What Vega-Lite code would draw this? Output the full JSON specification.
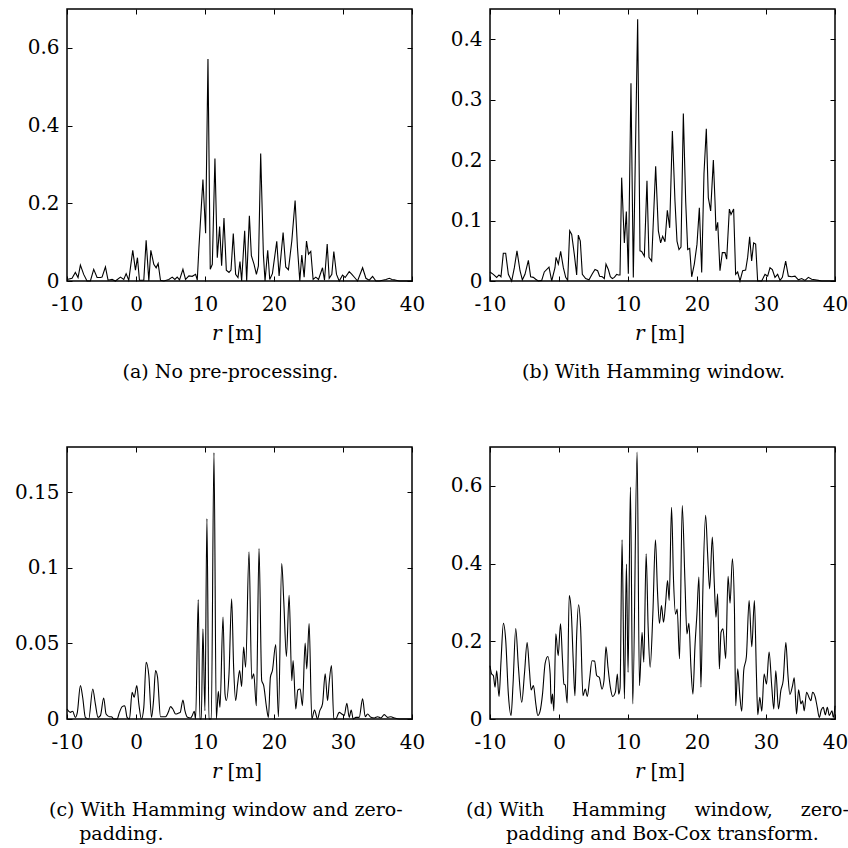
{
  "$schema": "https://vega.github.io/schema/vega-lite/v6.json",
  "padding": {"left": 13, "top": 7, "right": 0, "bottom": 0},
  "columns": 2,
  "spacing": {"row": 166, "column": 78},
  "bounds": "flush",
  "config": {
    "font": "DejaVu Serif",
    "view": {"stroke": "black", "strokeWidth": 1.5},
    "axis": {"domain": false, "grid": false, "tickSize": -5, "tickColor": "black", "tickWidth": 1, "labelColor": "black", "labelFontSize": 20, "labelFont": "DejaVu Serif", "titleFont": "DejaVu Serif", "titleFontSize": 20, "titleFontWeight": "normal", "titleColor": "black", "labelFlush": false},
    "axisX": {"labelPadding": 18},
    "axisY": {"labelPadding": 13},
    "title": {"font": "DejaVu Serif", "fontSize": 19, "fontWeight": "normal", "color": "black", "orient": "bottom", "offset": 20, "lineHeight": 24, "frame": "group"},
    "locale": {"number": {"decimal": ".", "thousands": ",", "grouping": [3], "currency": ["$", ""], "minus": "-"}}
  },
  "datasets": {
    "a": [
      {"r":-10.0,"v":0.004},{"r":-9.27,"v":0.007},{"r":-8.79,"v":0.022},{"r":-8.40,"v":0.009},{"r":-8.06,"v":0.041},{"r":-7.58,"v":0.017},{"r":-7.10,"v":0},{"r":-6.61,"v":0},{"r":-6.13,"v":0.030},{"r":-5.64,"v":0.009},{"r":-5.16,"v":0.009},{"r":-4.92,"v":0.010},{"r":-4.43,"v":0.036},{"r":-4.05,"v":0.002},{"r":-3.47,"v":0.004},{"r":-2.98,"v":0},{"r":-2.26,"v":0.010},{"r":-1.77,"v":0.004},{"r":-1.43,"v":0.019},{"r":-1.05,"v":0.002},{"r":-0.47,"v":0.079},{"r":-0.08,"v":0.028},{"r":0.21,"v":0.060},{"r":0.50,"v":0.002},{"r":1.13,"v":0.002},{"r":1.47,"v":0.105},{"r":1.86,"v":0},{"r":2.15,"v":0.079},{"r":2.58,"v":0.043},{"r":2.92,"v":0.034},{"r":3.21,"v":0.045},{"r":3.55,"v":0.002},{"r":4.04,"v":0},{"r":4.76,"v":0.004},{"r":5.25,"v":0.010},{"r":5.63,"v":0.004},{"r":5.97,"v":0.010},{"r":6.31,"v":0.003},{"r":6.80,"v":0.030},{"r":7.18,"v":0.004},{"r":7.67,"v":0.013},{"r":8.15,"v":0.012},{"r":8.64,"v":0.017},{"r":8.88,"v":0.002},{"r":9.12,"v":0.086},{"r":9.70,"v":0.261},{"r":10.09,"v":0.123},{"r":10.43,"v":0.571},{"r":10.76,"v":0.030},{"r":11.06,"v":0.043},{"r":11.44,"v":0.315},{"r":11.78,"v":0.060},{"r":12.12,"v":0.140},{"r":12.41,"v":0.039},{"r":12.75,"v":0.162},{"r":13.09,"v":0.028},{"r":13.48,"v":0.022},{"r":13.77,"v":0.028},{"r":14.10,"v":0.122},{"r":14.44,"v":0.017},{"r":14.78,"v":0.009},{"r":15.07,"v":0.050},{"r":15.31,"v":0},{"r":15.75,"v":0.129},{"r":16.04,"v":0},{"r":16.43,"v":0.168},{"r":16.72,"v":0.065},{"r":17.11,"v":0.043},{"r":17.45,"v":0.017},{"r":17.74,"v":0.039},{"r":18.07,"v":0.328},{"r":18.46,"v":0.069},{"r":18.70,"v":0},{"r":19.09,"v":0.079},{"r":19.38,"v":0.004},{"r":19.77,"v":0.019},{"r":20.40,"v":0.102},{"r":20.74,"v":0.013},{"r":21.32,"v":0.125},{"r":21.70,"v":0.036},{"r":22.09,"v":0.029},{"r":22.58,"v":0.103},{"r":23.06,"v":0.207},{"r":23.40,"v":0.086},{"r":23.74,"v":0},{"r":24.03,"v":0.067},{"r":24.37,"v":0.010},{"r":24.71,"v":0.103},{"r":25.00,"v":0.069},{"r":25.33,"v":0.076},{"r":25.67,"v":0.004},{"r":26.06,"v":0.010},{"r":26.45,"v":0.004},{"r":27.03,"v":0.034},{"r":27.32,"v":0.002},{"r":27.71,"v":0.095},{"r":28.00,"v":0.007},{"r":28.38,"v":0.017},{"r":28.67,"v":0.076},{"r":29.06,"v":0.017},{"r":29.45,"v":0},{"r":29.93,"v":0.015},{"r":30.32,"v":0.009},{"r":30.90,"v":0.024},{"r":31.29,"v":0.017},{"r":31.68,"v":0.009},{"r":32.11,"v":0},{"r":32.84,"v":0.034},{"r":33.32,"v":0.007},{"r":33.80,"v":0.002},{"r":34.29,"v":0.012},{"r":34.77,"v":0},{"r":35.26,"v":0},{"r":36.22,"v":0.004},{"r":36.71,"v":0.007},{"r":37.10,"v":0.004},{"r":37.43,"v":0.003},{"r":37.68,"v":0.002},{"r":38.16,"v":0},{"r":40.0,"v":0}
    ],
    "b": [
      {"r":-10.00,"v":0.015},{"r":-9.52,"v":0.011},{"r":-9.03,"v":0.006},{"r":-8.70,"v":0.010},{"r":-8.41,"v":0.007},{"r":-8.07,"v":0.046},{"r":-7.73,"v":0.046},{"r":-7.34,"v":0.011},{"r":-6.86,"v":0},{"r":-6.47,"v":0.022},{"r":-6.09,"v":0.050},{"r":-5.65,"v":0.017},{"r":-5.31,"v":0.002},{"r":-4.93,"v":0.011},{"r":-4.44,"v":0.034},{"r":-4.11,"v":0.007},{"r":-3.72,"v":0.006},{"r":-3.38,"v":0.003},{"r":-3.00,"v":0},{"r":-2.51,"v":0.001},{"r":-2.13,"v":0.015},{"r":-1.45,"v":0.023},{"r":-1.06,"v":0},{"r":-0.58,"v":0.022},{"r":-0.43,"v":0.039},{"r":-0.10,"v":0.028},{"r":0.24,"v":0.049},{"r":0.63,"v":0.022},{"r":0.97,"v":0.006},{"r":1.26,"v":0.001},{"r":1.55,"v":0.083},{"r":1.84,"v":0.077},{"r":2.22,"v":0.044},{"r":2.56,"v":0.010},{"r":2.80,"v":0.076},{"r":3.09,"v":0.066},{"r":3.38,"v":0.011},{"r":3.86,"v":0.004},{"r":4.35,"v":0.002},{"r":4.83,"v":0.012},{"r":5.22,"v":0.019},{"r":5.60,"v":0.017},{"r":5.89,"v":0.008},{"r":6.28,"v":0.007},{"r":6.57,"v":0.004},{"r":6.81,"v":0.028},{"r":7.15,"v":0.019},{"r":7.44,"v":0.007},{"r":7.73,"v":0.004},{"r":8.02,"v":0.006},{"r":8.36,"v":0.011},{"r":8.60,"v":0.010},{"r":8.84,"v":0.010},{"r":9.08,"v":0.171},{"r":9.47,"v":0.063},{"r":9.76,"v":0.115},{"r":10.05,"v":0.012},{"r":10.43,"v":0.327},{"r":10.77,"v":0.006},{"r":11.40,"v":0.433},{"r":11.74,"v":0.050},{"r":11.98,"v":0.049},{"r":12.37,"v":0.041},{"r":12.75,"v":0.166},{"r":13.04,"v":0.039},{"r":13.43,"v":0.033},{"r":14.01,"v":0.190},{"r":14.40,"v":0.083},{"r":14.73,"v":0.063},{"r":15.02,"v":0.074},{"r":15.36,"v":0.065},{"r":15.70,"v":0.117},{"r":16.04,"v":0.088},{"r":16.43,"v":0.248},{"r":16.81,"v":0.132},{"r":17.10,"v":0.066},{"r":17.39,"v":0.052},{"r":17.68,"v":0.056},{"r":18.02,"v":0.277},{"r":18.36,"v":0.132},{"r":18.65,"v":0.052},{"r":18.94,"v":0.054},{"r":19.23,"v":0.007},{"r":19.61,"v":0.028},{"r":20.00,"v":0.061},{"r":20.34,"v":0.121},{"r":20.68,"v":0.014},{"r":21.01,"v":0.177},{"r":21.35,"v":0.252},{"r":21.64,"v":0.138},{"r":21.98,"v":0.116},{"r":22.37,"v":0.200},{"r":22.61,"v":0.132},{"r":22.75,"v":0.083},{"r":23.00,"v":0.097},{"r":23.33,"v":0.017},{"r":23.67,"v":0.047},{"r":24.06,"v":0.047},{"r":24.30,"v":0.036},{"r":24.69,"v":0.119},{"r":24.93,"v":0.110},{"r":25.31,"v":0.119},{"r":25.60,"v":0.011},{"r":25.89,"v":0.015},{"r":26.23,"v":0},{"r":26.62,"v":0.017},{"r":27.05,"v":0.018},{"r":27.34,"v":0.039},{"r":27.63,"v":0.073},{"r":27.92,"v":0.033},{"r":28.21,"v":0.063},{"r":28.50,"v":0.061},{"r":28.79,"v":0},{"r":29.37,"v":0},{"r":29.86,"v":0.011},{"r":30.24,"v":0.008},{"r":30.58,"v":0.022},{"r":30.92,"v":0.019},{"r":31.30,"v":0.006},{"r":31.69,"v":0.011},{"r":32.03,"v":0.001},{"r":32.37,"v":0.006},{"r":32.85,"v":0.033},{"r":33.24,"v":0.008},{"r":33.72,"v":0.007},{"r":34.20,"v":0.008},{"r":34.69,"v":0.002},{"r":35.17,"v":0.004},{"r":35.65,"v":0.001},{"r":36.14,"v":0.006},{"r":36.62,"v":0.003},{"r":37.10,"v":0.002},{"r":37.58,"v":0.001},{"r":38.07,"v":0},{"r":40.00,"v":0}
    ],
    "c": [
      {"r":-10.00,"v":0.0066},{"r":-9.52,"v":0.0044},{"r":-9.18,"v":0.0051},{"r":-8.79,"v":0.0011},{"r":-8.50,"v":0.0044},{"r":-8.06,"v":0.0221},{"r":-7.73,"v":0.0144},{"r":-7.34,"v":0.0011},{"r":-6.85,"v":0},{"r":-6.27,"v":0.0199},{"r":-5.89,"v":0.0100},{"r":-5.50,"v":0.0011},{"r":-5.16,"v":0.0022},{"r":-4.68,"v":0.0139},{"r":-4.34,"v":0.0033},{"r":-3.85,"v":0.0015},{"r":-3.56,"v":0.0015},{"r":-3.22,"v":0},{"r":-2.74,"v":0},{"r":-2.40,"v":0.0044},{"r":-2.01,"v":0.0082},{"r":-1.63,"v":0.0088},{"r":-1.29,"v":0.0011},{"r":-0.95,"v":0},{"r":-0.56,"v":0.0177},{"r":-0.27,"v":0.0144},{"r":0.12,"v":0.0221},{"r":0.41,"v":0.0100},{"r":0.79,"v":0},{"r":1.13,"v":0.0077},{"r":1.47,"v":0.0376},{"r":1.86,"v":0.0288},{"r":2.25,"v":0.0011},{"r":2.54,"v":0.0122},{"r":2.83,"v":0.0321},{"r":3.12,"v":0.0277},{"r":3.55,"v":0.0015},{"r":3.89,"v":0.0015},{"r":4.28,"v":0.0015},{"r":4.67,"v":0.0044},{"r":5.00,"v":0.0082},{"r":5.34,"v":0.0066},{"r":5.73,"v":0.0033},{"r":6.12,"v":0.0038},{"r":6.41,"v":0.0044},{"r":6.80,"v":0.0126},{"r":7.09,"v":0.0055},{"r":7.47,"v":0.0011},{"r":7.91,"v":0.0007},{"r":8.15,"v":0.0022},{"r":8.44,"v":0.0051},{"r":8.64,"v":0},{"r":9.02,"v":0.079},{"r":9.26,"v":0},{"r":9.46,"v":0},{"r":9.70,"v":0.0597},{"r":9.99,"v":0.0055},{"r":10.28,"v":0.1327},{"r":10.57,"v":0},{"r":10.91,"v":0},{"r":11.30,"v":0.1763},{"r":11.64,"v":0},{"r":11.93,"v":0.0184},{"r":12.17,"v":0.0077},{"r":12.61,"v":0.0675},{"r":12.90,"v":0.0166},{"r":13.09,"v":0.0122},{"r":13.48,"v":0.0299},{"r":13.86,"v":0.0796},{"r":14.15,"v":0.0343},{"r":14.44,"v":0.0122},{"r":14.73,"v":0.0232},{"r":15.02,"v":0.0321},{"r":15.31,"v":0.0215},{"r":15.60,"v":0.0476},{"r":15.89,"v":0.0343},{"r":16.38,"v":0.1106},{"r":16.77,"v":0.0265},{"r":17.06,"v":0.0299},{"r":17.44,"v":0.0088},{"r":17.83,"v":0.1128},{"r":18.22,"v":0.0254},{"r":18.51,"v":0.0221},{"r":18.90,"v":0.0082},{"r":19.19,"v":0.0011},{"r":19.48,"v":0.0277},{"r":19.77,"v":0.0321},{"r":20.25,"v":0.0493},{"r":20.64,"v":0.0015},{"r":21.12,"v":0.1029},{"r":21.41,"v":0.0785},{"r":21.80,"v":0.0414},{"r":22.19,"v":0.0819},{"r":22.58,"v":0.0254},{"r":22.77,"v":0.0387},{"r":23.16,"v":0.0066},{"r":23.45,"v":0.0192},{"r":23.79,"v":0.0199},{"r":24.12,"v":0.0088},{"r":24.51,"v":0.0502},{"r":24.75,"v":0.0332},{"r":25.09,"v":0.0631},{"r":25.48,"v":0},{"r":25.87,"v":0.006},{"r":26.30,"v":0},{"r":26.64,"v":0.0055},{"r":27.03,"v":0.0100},{"r":27.42,"v":0.0299},{"r":27.76,"v":0.0122},{"r":28.00,"v":0.0243},{"r":28.33,"v":0.0354},{"r":28.67,"v":0},{"r":28.96,"v":0},{"r":29.45,"v":0.0044},{"r":29.83,"v":0.0033},{"r":30.17,"v":0.0022},{"r":30.56,"v":0.0104},{"r":30.90,"v":0.0011},{"r":31.19,"v":0.0060},{"r":31.48,"v":0},{"r":31.87,"v":0.0011},{"r":32.35,"v":0.0011},{"r":32.84,"v":0.0133},{"r":33.22,"v":0.0015},{"r":33.56,"v":0.0033},{"r":34.05,"v":0.0011},{"r":34.53,"v":0.0007},{"r":35.01,"v":0.0015},{"r":35.50,"v":0.0007},{"r":35.98,"v":0.0029},{"r":36.47,"v":0.0011},{"r":36.95,"v":0.0015},{"r":37.43,"v":0.0007},{"r":38.16,"v":0},{"r":40.00,"v":0}
    ],
    "d": [
      {"r":-10.00,"v":0.137},{"r":-9.76,"v":0.116},{"r":-9.52,"v":0.112},{"r":-9.27,"v":0.082},{"r":-9.03,"v":0.124},{"r":-8.69,"v":0.058},{"r":-8.40,"v":0.150},{"r":-8.06,"v":0.246},{"r":-7.72,"v":0.202},{"r":-7.34,"v":0.064},{"r":-6.95,"v":0.009},{"r":-6.66,"v":0.090},{"r":-6.27,"v":0.233},{"r":-5.88,"v":0.133},{"r":-5.40,"v":0.043},{"r":-5.01,"v":0.116},{"r":-4.62,"v":0.197},{"r":-4.28,"v":0.124},{"r":-4.04,"v":0.075},{"r":-3.70,"v":0.086},{"r":-3.36,"v":0.039},{"r":-3.07,"v":0.009},{"r":-2.73,"v":0.021},{"r":-2.39,"v":0.064},{"r":-2.01,"v":0.143},{"r":-1.62,"v":0.161},{"r":-1.28,"v":0.116},{"r":-1.13,"v":0.039},{"r":-0.94,"v":0.064},{"r":-0.75,"v":0.021},{"r":-0.46,"v":0.219},{"r":-0.12,"v":0.163},{"r":0.22,"v":0.245},{"r":0.51,"v":0.150},{"r":0.71,"v":0.090},{"r":0.90,"v":0.088},{"r":1.19,"v":0.041},{"r":1.48,"v":0.318},{"r":1.77,"v":0.279},{"r":2.06,"v":0.150},{"r":2.31,"v":0.060},{"r":2.55,"v":0.210},{"r":2.84,"v":0.294},{"r":3.13,"v":0.236},{"r":3.47,"v":0.060},{"r":3.81,"v":0.077},{"r":4.10,"v":0.058},{"r":4.44,"v":0.103},{"r":4.78,"v":0.150},{"r":5.16,"v":0.149},{"r":5.46,"v":0.112},{"r":5.84,"v":0.107},{"r":6.23,"v":0.077},{"r":6.52,"v":0.099},{"r":6.81,"v":0.186},{"r":7.10,"v":0.133},{"r":7.44,"v":0.082},{"r":7.78,"v":0.058},{"r":8.17,"v":0.069},{"r":8.46,"v":0.116},{"r":8.65,"v":0.064},{"r":8.85,"v":0.080},{"r":9.14,"v":0.461},{"r":9.48,"v":0.052},{"r":9.77,"v":0.399},{"r":10.01,"v":0.120},{"r":10.35,"v":0.597},{"r":10.69,"v":0.039},{"r":11.32,"v":0.687},{"r":11.66,"v":0.086},{"r":12.04,"v":0.223},{"r":12.29,"v":0.146},{"r":12.63,"v":0.425},{"r":12.92,"v":0.236},{"r":13.21,"v":0.133},{"r":13.60,"v":0.270},{"r":13.98,"v":0.461},{"r":14.27,"v":0.330},{"r":14.56,"v":0.246},{"r":14.85,"v":0.292},{"r":15.15,"v":0.249},{"r":15.44,"v":0.296},{"r":15.73,"v":0.356},{"r":15.97,"v":0.305},{"r":16.31,"v":0.545},{"r":16.60,"v":0.356},{"r":16.89,"v":0.270},{"r":17.13,"v":0.283},{"r":17.47,"v":0.155},{"r":17.86,"v":0.549},{"r":18.25,"v":0.356},{"r":18.54,"v":0.219},{"r":18.83,"v":0.246},{"r":19.12,"v":0.133},{"r":19.41,"v":0.064},{"r":19.70,"v":0.185},{"r":19.99,"v":0.270},{"r":20.28,"v":0.365},{"r":20.57,"v":0.082},{"r":20.86,"v":0.339},{"r":21.25,"v":0.524},{"r":21.54,"v":0.425},{"r":21.83,"v":0.335},{"r":22.22,"v":0.468},{"r":22.51,"v":0.348},{"r":22.75,"v":0.262},{"r":22.99,"v":0.322},{"r":23.24,"v":0.129},{"r":23.48,"v":0.223},{"r":23.77,"v":0.232},{"r":24.16,"v":0.155},{"r":24.50,"v":0.367},{"r":24.79,"v":0.298},{"r":25.13,"v":0.412},{"r":25.42,"v":0.288},{"r":25.61,"v":0.034},{"r":25.90,"v":0.129},{"r":26.19,"v":0.064},{"r":26.48,"v":0.020},{"r":26.77,"v":0.124},{"r":27.16,"v":0.161},{"r":27.55,"v":0.305},{"r":27.94,"v":0.186},{"r":28.32,"v":0.305},{"r":28.61,"v":0.116},{"r":28.81,"v":0.011},{"r":29.10,"v":0.056},{"r":29.39,"v":0.020},{"r":29.73,"v":0.116},{"r":30.07,"v":0.090},{"r":30.45,"v":0.172},{"r":30.84,"v":0.082},{"r":31.13,"v":0.026},{"r":31.42,"v":0.124},{"r":31.81,"v":0.026},{"r":32.15,"v":0.073},{"r":32.49,"v":0.099},{"r":32.88,"v":0.197},{"r":33.17,"v":0.116},{"r":33.46,"v":0.063},{"r":33.85,"v":0.086},{"r":34.09,"v":0.106},{"r":34.43,"v":0.013},{"r":34.72,"v":0.075},{"r":35.06,"v":0.039},{"r":35.30,"v":0.047},{"r":35.54,"v":0.021},{"r":35.88,"v":0.069},{"r":36.27,"v":0.054},{"r":36.51,"v":0.047},{"r":36.75,"v":0.069},{"r":37.14,"v":0.056},{"r":37.43,"v":0.030},{"r":37.72,"v":0.004},{"r":38.01,"v":0.023},{"r":38.30,"v":0.030},{"r":38.60,"v":0.011},{"r":38.89,"v":0.030},{"r":39.18,"v":0.009},{"r":39.56,"v":0.021},{"r":39.76,"v":0.004},{"r":40.00,"v":0.034}
    ]
  },
  "concat": [
    {
      "width": 345, "height": 272,
      "title": {"text": "(a) No pre-processing.", "anchor": "middle", "dx": -9},
      "resolve": {"axis": {"x": "independent", "y": "independent"}},
      "layer": [
        {"data": {"name": "a"}, "mark": {"type": "line", "color": "black", "strokeWidth": 1.1},
         "encoding": {
           "x": {"field": "r", "type": "quantitative", "scale": {"domain": [-10, 40], "nice": false, "zero": false}, "axis": {"orient": "bottom", "values": [-10, 0, 10, 20, 30, 40], "title": "r", "titleFontStyle": "italic", "titleX": 154, "titleY": 58, "titleAlign": "right", "titleBaseline": "alphabetic"}},
           "y": {"field": "v", "type": "quantitative", "scale": {"domain": [0, 0.7], "nice": false}, "axis": {"orient": "left", "values": [0, 0.2, 0.4, 0.6], "format": "~g", "title": null}}
         }},
        {"data": {"name": "a"}, "mark": {"type": "line", "strokeOpacity": 0},
         "encoding": {
           "x": {"field": "r", "type": "quantitative", "axis": {"orient": "top", "values": [-10, 0, 10, 20, 30, 40], "labels": false, "title": null}},
           "y": {"field": "v", "type": "quantitative", "axis": {"orient": "right", "values": [0, 0.2, 0.4, 0.6], "labels": false, "title": null}}
         }},
        {"data": {"name": "a"}, "mark": {"type": "line", "strokeOpacity": 0},
         "encoding": {
           "x": {"field": "r", "type": "quantitative", "axis": {"orient": "bottom", "labels": false, "ticks": false, "title": "[m]", "titleX": 160, "titleY": 58, "titleAlign": "left", "titleBaseline": "alphabetic"}},
           "y": {"field": "v", "type": "quantitative", "axis": null}
         }}
      ]
    },
    {
      "width": 345, "height": 272,
      "title": {"text": "(b) With Hamming window.", "anchor": "middle", "dx": -9},
      "resolve": {"axis": {"x": "independent", "y": "independent"}},
      "layer": [
        {"data": {"name": "b"}, "mark": {"type": "line", "color": "black", "strokeWidth": 1.1},
         "encoding": {
           "x": {"field": "r", "type": "quantitative", "scale": {"domain": [-10, 40], "nice": false, "zero": false}, "axis": {"orient": "bottom", "values": [-10, 0, 10, 20, 30, 40], "title": "r", "titleFontStyle": "italic", "titleX": 154, "titleY": 58, "titleAlign": "right", "titleBaseline": "alphabetic"}},
           "y": {"field": "v", "type": "quantitative", "scale": {"domain": [0, 0.45], "nice": false}, "axis": {"orient": "left", "values": [0, 0.1, 0.2, 0.3, 0.4], "format": "~g", "title": null}}
         }},
        {"data": {"name": "b"}, "mark": {"type": "line", "strokeOpacity": 0},
         "encoding": {
           "x": {"field": "r", "type": "quantitative", "axis": {"orient": "top", "values": [-10, 0, 10, 20, 30, 40], "labels": false, "title": null}},
           "y": {"field": "v", "type": "quantitative", "axis": {"orient": "right", "values": [0, 0.1, 0.2, 0.3, 0.4], "labels": false, "title": null}}
         }},
        {"data": {"name": "b"}, "mark": {"type": "line", "strokeOpacity": 0},
         "encoding": {
           "x": {"field": "r", "type": "quantitative", "axis": {"orient": "bottom", "labels": false, "ticks": false, "title": "[m]", "titleX": 160, "titleY": 58, "titleAlign": "left", "titleBaseline": "alphabetic"}},
           "y": {"field": "v", "type": "quantitative", "axis": null}
         }}
      ]
    },
    {
      "width": 345, "height": 272,
      "title": {"text": ["(c) With Hamming window and zero-", "\u200b\u00a0\u00a0\u00a0\u00a0\u00a0padding."], "anchor": "start", "dx": -18},
      "resolve": {"axis": {"x": "independent", "y": "independent"}},
      "layer": [
        {"data": {"name": "c"}, "mark": {"type": "line", "color": "black", "strokeWidth": 1.1, "interpolate": "monotone"},
         "encoding": {
           "x": {"field": "r", "type": "quantitative", "scale": {"domain": [-10, 40], "nice": false, "zero": false}, "axis": {"orient": "bottom", "values": [-10, 0, 10, 20, 30, 40], "title": "r", "titleFontStyle": "italic", "titleX": 154, "titleY": 58, "titleAlign": "right", "titleBaseline": "alphabetic"}},
           "y": {"field": "v", "type": "quantitative", "scale": {"domain": [0, 0.18], "nice": false}, "axis": {"orient": "left", "values": [0, 0.05, 0.1, 0.15], "format": "~g", "title": null}}
         }},
        {"data": {"name": "c"}, "mark": {"type": "line", "strokeOpacity": 0},
         "encoding": {
           "x": {"field": "r", "type": "quantitative", "axis": {"orient": "top", "values": [-10, 0, 10, 20, 30, 40], "labels": false, "title": null}},
           "y": {"field": "v", "type": "quantitative", "axis": {"orient": "right", "values": [0, 0.05, 0.1, 0.15], "labels": false, "title": null}}
         }},
        {"data": {"name": "c"}, "mark": {"type": "line", "strokeOpacity": 0},
         "encoding": {
           "x": {"field": "r", "type": "quantitative", "axis": {"orient": "bottom", "labels": false, "ticks": false, "title": "[m]", "titleX": 160, "titleY": 58, "titleAlign": "left", "titleBaseline": "alphabetic"}},
           "y": {"field": "v", "type": "quantitative", "axis": null}
         }}
      ]
    },
    {
      "width": 345, "height": 272,
      "title": {"text": ["(d) With\u00a0\u00a0\u00a0\u2009 Hamming\u00a0\u00a0\u00a0\u2009 window,\u00a0\u00a0\u00a0\u2009 zero-", "\u200b\u00a0\u00a0\u00a0\u00a0\u00a0\u00a0\u2009padding and Box-Cox transform."], "anchor": "start", "dx": -24},
      "resolve": {"axis": {"x": "independent", "y": "independent"}},
      "layer": [
        {"data": {"name": "d"}, "mark": {"type": "line", "color": "black", "strokeWidth": 1.1, "interpolate": "monotone"},
         "encoding": {
           "x": {"field": "r", "type": "quantitative", "scale": {"domain": [-10, 40], "nice": false, "zero": false}, "axis": {"orient": "bottom", "values": [-10, 0, 10, 20, 30, 40], "title": "r", "titleFontStyle": "italic", "titleX": 154, "titleY": 58, "titleAlign": "right", "titleBaseline": "alphabetic"}},
           "y": {"field": "v", "type": "quantitative", "scale": {"domain": [0, 0.7], "nice": false}, "axis": {"orient": "left", "values": [0, 0.2, 0.4, 0.6], "format": "~g", "title": null}}
         }},
        {"data": {"name": "d"}, "mark": {"type": "line", "strokeOpacity": 0},
         "encoding": {
           "x": {"field": "r", "type": "quantitative", "axis": {"orient": "top", "values": [-10, 0, 10, 20, 30, 40], "labels": false, "title": null}},
           "y": {"field": "v", "type": "quantitative", "axis": {"orient": "right", "values": [0, 0.2, 0.4, 0.6], "labels": false, "title": null}}
         }},
        {"data": {"name": "d"}, "mark": {"type": "line", "strokeOpacity": 0},
         "encoding": {
           "x": {"field": "r", "type": "quantitative", "axis": {"orient": "bottom", "labels": false, "ticks": false, "title": "[m]", "titleX": 160, "titleY": 58, "titleAlign": "left", "titleBaseline": "alphabetic"}},
           "y": {"field": "v", "type": "quantitative", "axis": null}
         }}
      ]
    }
  ]
}
